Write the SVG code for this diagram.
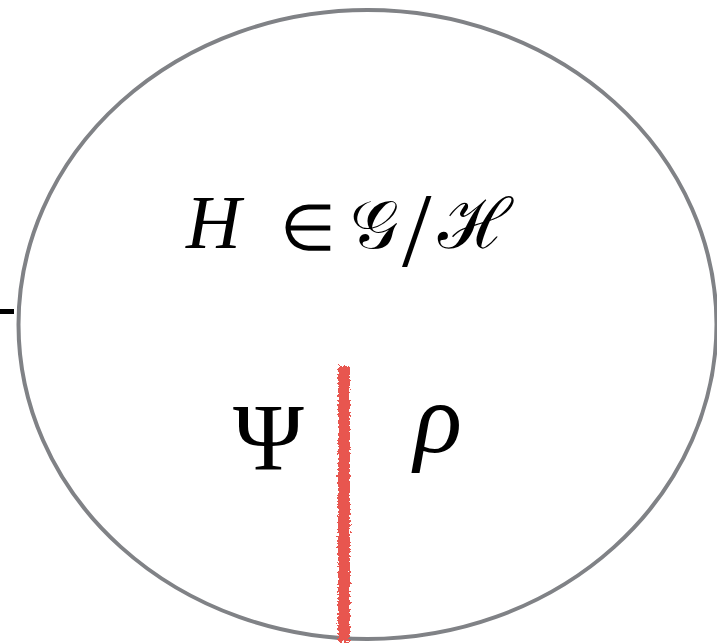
<svg xmlns="http://www.w3.org/2000/svg" width="717" height="644" viewBox="0 0 717 644">
<style>
.math{font-family:"DejaVu Serif","Liberation Serif",serif;fill:#000}
.rm{font-family:"Liberation Serif",serif;fill:#000}
.it{font-family:"Liberation Serif",serif;font-style:italic;fill:#000}
</style>
<defs>
<filter id="rough" x="-50%" y="-5%" width="200%" height="110%">
<feTurbulence type="fractalNoise" baseFrequency="0.45" numOctaves="2" seed="3" result="n"/>
<feDisplacementMap in="SourceGraphic" in2="n" scale="6" xChannelSelector="R" yChannelSelector="G"/>
</filter>
</defs>
<rect width="717" height="644" fill="#fff"/>
<g id="region">
<ellipse cx="367.5" cy="324.5" rx="349" ry="314.5" fill="none" stroke="#808286" stroke-width="4"/>
</g>
<g id="tick"><rect x="0" y="309" width="14" height="5" fill="#000"/></g>
<g id="label-top">
<text class="it" x="186" y="248" font-size="76">H</text>
<text class="rm" x="280" y="250" font-size="64">∈</text>
<text class="math" x="350" y="248" font-size="68">𝒢</text>
<text class="rm" x="402" y="266" font-size="106">/</text>
<text class="math" x="438" y="248" font-size="70">ℋ</text>
</g>
<g id="connectors">
<rect x="338" y="366" width="12" height="276" fill="#e8574f" filter="url(#rough)"/>
</g>
<g id="label-psi"><text class="rm" x="233" y="470" font-size="96">Ψ</text></g>
<g id="label-rho"><text class="it" x="414" y="452" font-size="100">ρ</text></g>
</svg>
